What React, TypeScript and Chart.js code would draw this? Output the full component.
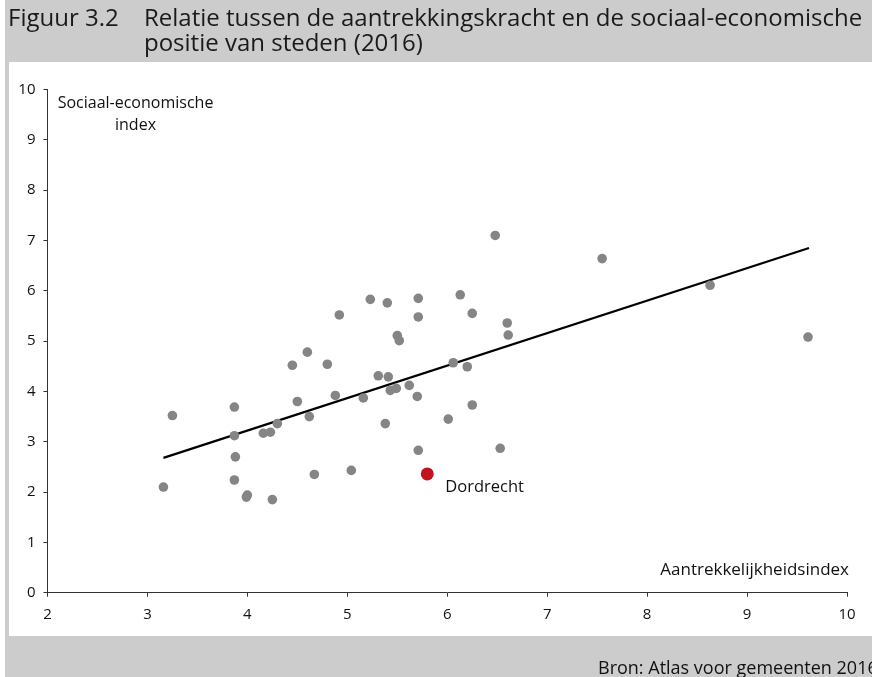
import React, { useEffect, useRef } from "react";
import { Chart, registerables } from "chart.js";

Chart.register(...registerables);

// Aantrekkelijkheidsindex (x) per stad
const cityX = [
  3.16, 3.25, 3.87, 3.87, 3.88, 3.87, 4.0, 3.99, 4.25, 4.16,
  4.23, 4.3, 4.45, 4.6, 4.5, 4.62, 4.67, 4.8, 4.88, 4.92,
  5.04, 5.16, 5.23, 5.31, 5.4, 5.71, 6.13, 5.71, 6.25, 6.6,
  6.61, 5.5, 5.52, 6.06, 6.2, 5.41, 5.62, 5.43, 5.49, 5.7,
  6.25, 6.01, 5.38, 5.71, 6.53, 6.48, 7.55, 8.63, 9.61,
];
// Sociaal-economische index (y) per stad
const cityY = [
  2.1, 3.52, 3.69, 3.12, 2.7, 2.24, 1.94, 1.9, 1.85, 3.17,
  3.19, 3.36, 4.52, 4.78, 3.8, 3.5, 2.35, 4.54, 3.92, 5.52,
  2.43, 3.87, 5.83, 4.31, 5.76, 5.85, 5.92, 5.48, 5.55, 5.36,
  5.12, 5.11, 5.01, 4.57, 4.49, 4.29, 4.12, 4.02, 4.06, 3.9,
  3.73, 3.45, 3.36, 2.83, 2.87, 7.1, 6.64, 6.11, 5.08,
];
const dordrechtX = [5.8];
const dordrechtY = [2.36];
const dordrechtLabel = "Dordrecht";
const trendX = [3.16, 9.62];
const trendY = [2.68, 6.85];

const titleNumber = "Figuur 3.2";
const titleLines = [
  "Relatie tussen de aantrekkingskracht en de sociaal-economische",
  "positie van steden (2016)",
];
const yAxisTitle = ["Sociaal-economische", "index"];
const xAxisTitle = "Aantrekkelijkheidsindex";
const sourceText = "Bron: Atlas voor gemeenten 2016";

const FONT = "'Open Sans', 'Noto Sans', sans-serif";

export default function App() {
  const ref = useRef<HTMLCanvasElement | null>(null);

  useEffect(() => {
    const canvas = ref.current;
    if (!canvas) return;

    const bgPlugin = {
      id: "bg",
      beforeDraw(chart: any) {
        const ctx = chart.ctx;
        ctx.save();
        ctx.fillStyle = "#cccccc";
        ctx.fillRect(5, 0, 867, 677);
        ctx.fillStyle = "#ffffff";
        ctx.fillRect(9, 62, 863, 574);
        ctx.restore();
      },
      afterDatasetsDraw(chart: any) {
        const ctx = chart.ctx;
        const area = chart.chartArea;
        ctx.save();
        ctx.fillStyle = "#111111";
        ctx.font = `16px ${FONT}`;
        ctx.textBaseline = "middle";
        ctx.textAlign = "center";
        ctx.fillText(yAxisTitle[0], area.left + 88, area.top + 14);
        ctx.fillText(yAxisTitle[1], area.left + 88, area.top + 36);
        ctx.font = `17px ${FONT}`;
        ctx.textAlign = "right";
        ctx.fillText(xAxisTitle, area.right + 2, area.bottom - 23);
        const meta = chart.getDatasetMeta(1);
        const pt = meta.data[0];
        if (pt) {
          ctx.font = `16.5px ${FONT}`;
          ctx.textAlign = "left";
          ctx.fillText(dordrechtLabel, pt.x + 18, pt.y + 13);
        }
        ctx.restore();
      },
    };

    const chart = new Chart(canvas, {
      type: "scatter",
      data: {
        datasets: [
          {
            label: "Steden",
            data: cityX.map((x, i) => ({ x, y: cityY[i] })),
            backgroundColor: "#858585",
            borderColor: "#858585",
            borderWidth: 0,
            pointRadius: 4.8,
            order: 2,
          },
          {
            label: dordrechtLabel,
            data: dordrechtX.map((x, i) => ({ x, y: dordrechtY[i] })),
            backgroundColor: "#c1121f",
            borderColor: "#c1121f",
            borderWidth: 0,
            pointRadius: 6.5,
            order: 1,
          },
          {
            type: "line",
            label: "Trend",
            data: trendX.map((x, i) => ({ x, y: trendY[i] })),
            borderColor: "#000000",
            borderWidth: 2.2,
            pointRadius: 0,
            showLine: true,
            fill: false,
            order: 3,
          } as any,
        ],
      },
      options: {
        responsive: false,
        animation: false,
        devicePixelRatio: 1,
        layout: { padding: { left: 0, top: 89.5, right: 25, bottom: 44.3 } },
        plugins: {
          legend: { display: false },
          tooltip: { enabled: false },
          title: { display: false },
        },
        scales: {
          x: {
            type: "linear",
            min: 2,
            max: 10,
            ticks: {
              stepSize: 1,
              color: "#111111",
              font: { family: FONT, size: 15 },
              padding: 9,
            },
            grid: {
              display: true,
              drawOnChartArea: false,
              drawTicks: true,
              tickLength: 4,
              color: "#333333",
            },
            border: { display: true, color: "#333333", width: 1 },
            afterFit(scale: any) {
              scale.height = 40;
            },
          },
          y: {
            type: "linear",
            min: 0,
            max: 10,
            ticks: {
              stepSize: 1,
              color: "#111111",
              font: { family: FONT, size: 15 },
              padding: 8,
            },
            grid: {
              display: true,
              drawOnChartArea: false,
              drawTicks: true,
              tickLength: 4,
              color: "#333333",
            },
            border: { display: true, color: "#333333", width: 1 },
            afterFit(scale: any) {
              scale.width = 47.5;
            },
          },
        },
      } as any,
      plugins: [bgPlugin],
    });

    return () => chart.destroy();
  }, []);

  return (
    <div style={{ position: "absolute", left: 0, top: 0, width: 872, height: 677, overflow: "hidden" }}>
      <canvas
        ref={ref}
        width={872}
        height={677}
        style={{ position: "absolute", left: 0, top: 0, width: 872, height: 677 }}
      />
      <div
        style={{
          position: "absolute",
          left: 8,
          top: 4,
          fontFamily: FONT,
          fontSize: 24,
          lineHeight: "25px",
          color: "#1a1a1a",
          whiteSpace: "nowrap",
        }}
      >
        <span style={{ display: "inline-block", width: 136 }}>{titleNumber}</span>
        <span style={{ display: "inline-block", verticalAlign: "top" }}>
          {titleLines[0]}
          <br />
          {titleLines[1]}
        </span>
      </div>
      <div
        style={{
          position: "absolute",
          left: 598,
          top: 656,
          fontFamily: FONT,
          fontSize: 18,
          lineHeight: "22px",
          color: "#111111",
          whiteSpace: "nowrap",
        }}
      >
        {sourceText}
      </div>
    </div>
  );
}
